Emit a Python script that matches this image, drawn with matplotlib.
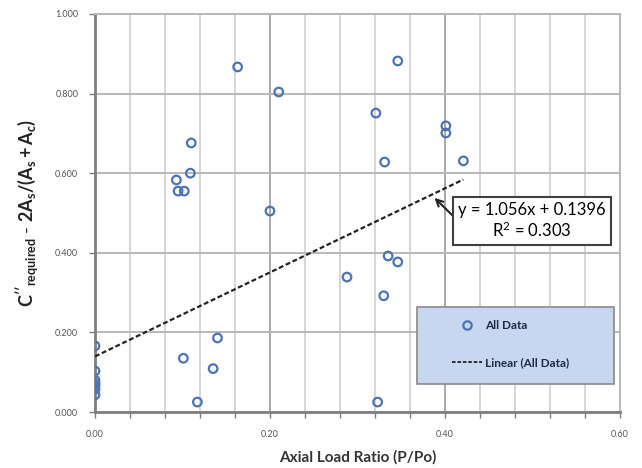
import matplotlib
matplotlib.use("Agg")
import matplotlib.pyplot as plt
import numpy as np
from matplotlib.ticker import MultipleLocator, FormatStrFormatter
from matplotlib.lines import Line2D
from matplotlib.patches import Rectangle

plt.rcParams['font.family'] = ['Lato', 'DejaVu Sans']
plt.rcParams['mathtext.fontset'] = 'custom'
plt.rcParams['mathtext.rm'] = 'Lato'
plt.rcParams['mathtext.bf'] = 'Lato:bold'
plt.rcParams['mathtext.it'] = 'Lato:italic'
plt.rcParams['mathtext.default'] = 'bf'

# Data
axial_ratio = [0.163, 0.210, 0.321, 0.110, 0.109, 0.093, 0.095, 0.102,
               0.346, 0.401, 0.401, 0.331, 0.421, 0.200,
               0.335, 0.346, 0.288, 0.330,
               0.140, 0.101, 0.135, 0.117, 0.323,
               0.0, 0.0, 0.0, 0.0, 0.0, 0.0, 0.0]
c_value = [0.867, 0.804, 0.751, 0.676, 0.600, 0.583, 0.555, 0.555,
           0.882, 0.719, 0.701, 0.628, 0.631, 0.505,
           0.392, 0.377, 0.339, 0.292,
           0.186, 0.135, 0.109, 0.025, 0.025,
           0.166, 0.103, 0.080, 0.072, 0.065, 0.057, 0.043]

slope = 1.056
intercept = 0.1396
r_squared = 0.303

fig = plt.figure(figsize=(6.42, 4.68), dpi=100)
ax = fig.add_axes([95/642, 1-412/468, 525/642, 398/468])

ax.set_xlim(0, 0.6)
ax.set_ylim(0, 1.0)
ax.xaxis.set_major_locator(MultipleLocator(0.2))
ax.xaxis.set_minor_locator(MultipleLocator(0.04))
ax.yaxis.set_major_locator(MultipleLocator(0.2))
ax.xaxis.set_major_formatter(FormatStrFormatter('%.2f'))
ax.yaxis.set_major_formatter(FormatStrFormatter('%.3f'))

ax.grid(True, which='minor', axis='x', color='#d0d0d0', lw=1.2)
ax.grid(True, which='major', axis='x', color='#a8a8a8', lw=1.4)
ax.grid(True, which='major', axis='y', color='#b8b8b8', lw=1.4)
ax.set_axisbelow(True)

for s in ['left', 'bottom']:
    ax.spines[s].set_color('#7f7f7f')
    ax.spines[s].set_linewidth(2)
for s in ['top', 'right']:
    ax.spines[s].set_color('#b8b8b8')
    ax.spines[s].set_linewidth(1.4)

ax.tick_params(axis='both', which='both', direction='out', colors='#7f7f7f',
               labelcolor='#555555', labelsize=6.5, length=4, width=1)
ax.tick_params(axis='x', which='both', pad=9)
ax.tick_params(axis='y', pad=8)

xs = np.array(axial_ratio)
ax.scatter(axial_ratio, c_value, s=38, facecolors='none', edgecolors='#4a74b5',
           linewidths=1.6, zorder=3)

xfit = np.array([0.0, xs.max()])
ax.plot(xfit, slope*xfit + intercept, ls=(0, (2.2, 1.2)), color='#222222', lw=1.6, zorder=4)

ax.annotate(f"y = {slope}x + {intercept}\nR$^\\mathrm{{2}}$ = {r_squared}",
            xy=(0.388, 0.538), xycoords='data',
            xytext=(0.4994, 0.48), textcoords='data',
            ha='center', va='center', fontsize=12, linespacing=1.2,
            bbox=dict(boxstyle='square,pad=0.3', fc='white', ec='#404040', lw=1.5),
            arrowprops=dict(arrowstyle='->', color='#222222', lw=1.5,
                            shrinkA=0, shrinkB=0, relpos=(0, 0.5)))

# legend background box (drawn above the grid)
ax.add_patch(Rectangle((417/642, 1-384/468), 197/642, 77/468,
                       transform=fig.transFigure, fc='#c6d7ef',
                       ec='#8a8a8a', lw=1.2, zorder=5, clip_on=False))

handles = [Line2D([], [], marker='o', ls='none', mfc='none', mec='#4a74b5', mew=1.6, ms=6),
           Line2D([], [], ls=(0, (2, 1)), color='#222222', lw=1.3)]
leg = ax.legend(handles, ['All Data', 'Linear (All Data)'], loc='upper left',
                bbox_to_anchor=(452/642, 1-320/468), bbox_transform=fig.transFigure,
                frameon=False, labelspacing=2.2,
                borderpad=0, borderaxespad=0, handlelength=2.5, handletextpad=0.3,
                prop={'weight': 'bold', 'size': 8.5})
for t in leg.get_texts():
    t.set_color('#1f2a44')
leg.set_zorder(6)

ax.set_xlabel('Axial Load Ratio (P/Po)', fontsize=11, fontweight='bold', color='#333333', labelpad=8)
ax.set_ylabel(r"$C''_{required}\ \text{-}\ 2A_s/(A_s+A_c)$", fontsize=13, color='#222222', labelpad=10)

fig.savefig('out.png', dpi=100)
